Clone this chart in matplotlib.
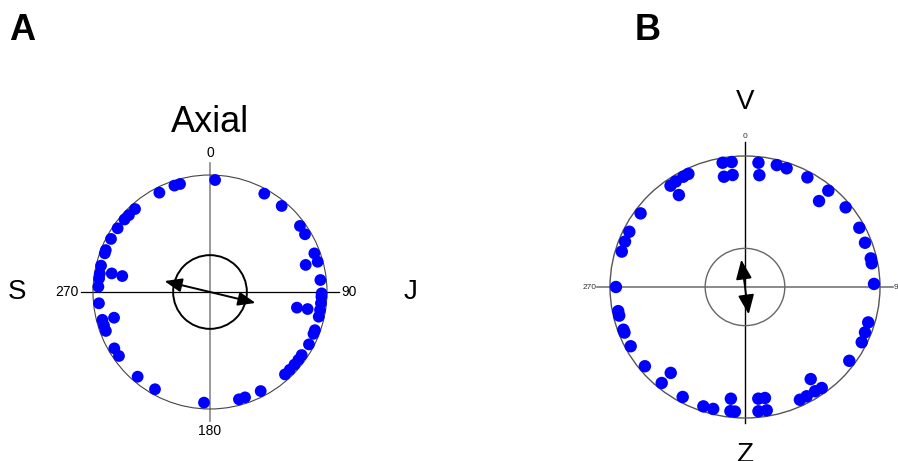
import numpy as np
import matplotlib
matplotlib.use("Agg")
import matplotlib.pyplot as plt
from matplotlib.patches import Circle, FancyArrowPatch

plt.rcParams['font.family'] = ['Liberation Sans', 'DejaVu Sans']

# Data ####################################################################
# panel A (axial) : angle in degrees (0 = top, clockwise), radius as fraction of circle
a_angles = [2.6, 341.5, 344.5, 333, 28.9, 39.8, 53.7, 58.7, 69.7, 74.3, 74.2, 83.8, 90.7,
            317.9, 313.5, 310.3, 304.6, 298.2, 291.9, 290.2, 283.6, 279.5, 277, 272.7, 280.7, 280.3,
            264.2, 255.5, 252.5, 249.5, 255, 239.5, 234.9, 220.5, 209.5, 183.1, 164.9, 161.6,
            152.9, 137.7, 134.3, 130.7, 127.5, 124.5, 117.9, 112, 110, 102.8, 99.3, 95.8, 92.4,
            100.2, 99.9]
a_radius = [0.958, 0.959, 0.958, 0.953, 0.96, 0.957, 0.954, 0.95, 0.951, 0.956, 0.85, 0.949, 0.954,
            0.956, 0.955, 0.958, 0.959, 0.96, 0.96, 0.958, 0.958, 0.955, 0.955, 0.955, 0.855, 0.762,
            0.954, 0.95, 0.95, 0.95, 0.849, 0.949, 0.951, 0.952, 0.955, 0.947, 0.95, 0.949,
            0.951, 0.952, 0.952, 0.952, 0.952, 0.951, 0.957, 0.954, 0.954, 0.953, 0.953, 0.953, 0.953,
            0.755, 0.847]
a_mean_dir = 103.5      # axial mean, drawn both ways
a_mean_len = 0.40
a_crit = 0.315          # inner circle

# panel B
b_angles = [350.1, 354.1, 349.5, 353.9, 6.0, 7.1, 14.2, 18.8, 28.9, 40, 39.9, 50.8, 61.9, 69.2,
            76.8, 79.1, 88.6,
            324.5, 327.5, 331.5, 334.1, 325.1, 306, 296.2, 291.3, 286.5, 270,
            258.9, 256.8, 250.1, 248.7, 241.9, 230.8, 220, 220.1, 208.8, 198.7, 194.2, 187,
            186.5, 184.5, 173.4, 170.1, 174, 170.3, 145.3, 154.7, 151.3, 146.9, 143.6, 126.1,
            116, 111.3, 106.5]
b_radius = [0.963, 0.959, 0.856, 0.86, 0.954, 0.86, 0.96, 0.957, 0.956, 0.96, 0.855, 0.962, 0.96, 0.951,
            0.957, 0.956, 0.956,
            0.95, 0.955, 0.958, 0.96, 0.856, 0.956, 0.955, 0.954, 0.952, 0.956,
            0.957, 0.957, 0.958, 0.958, 0.96, 0.957, 0.856, 0.958, 0.958, 0.962, 0.96, 0.859,
            0.954, 0.954, 0.858, 0.86, 0.954, 0.955, 0.855, 0.952, 0.951, 0.95, 0.958, 0.956,
            0.962, 0.954, 0.952]
b_mean_dir = 352.5
b_mean_len = 0.21
b_crit = 0.295


def polar_xy(ang, rad):
    t = np.radians(np.asarray(ang, dtype=float))
    r = np.asarray(rad, dtype=float)
    return r * np.sin(t), r * np.cos(t)


fig = plt.figure(figsize=(8.98, 4.61), dpi=100)

# Panel A #################################################################
ax = fig.add_axes([0, 0, 0.5, 1])
ax.set_xlim(-210 / 117, (449 - 210) / 117)
ax.set_ylim(-169 / 117, (461 - 169) / 117)
ax.axis("off")

ax.plot([-1.1, 1.1], [0, 0], color="black", lw=0.9, zorder=1)
ax.plot([0, 0], [-1.1, 1.1], color="#888888", lw=1.2, zorder=1)
ax.add_patch(Circle((0, 0), 1.0, fill=False, ec="#444444", lw=0.8, zorder=2))
ax.add_patch(Circle((0, 0), a_crit, fill=False, ec="black", lw=1.4, zorder=2))

x, y = polar_xy(a_angles, a_radius)
ax.scatter(x, y, s=72, color="#0000ff", edgecolors="none", zorder=3)

x1, y1 = polar_xy([a_mean_dir], [a_mean_len])
ax.add_patch(FancyArrowPatch((-x1[0], -y1[0]), (x1[0], y1[0]),
                             arrowstyle="<|-|>,head_length=0.75,head_width=0.3",
                             mutation_scale=14, color="black", lw=1.4, zorder=4,
                             shrinkA=0, shrinkB=0))

ax.text(0, 1.19, "0", ha="center", va="center", fontsize=10)
ax.text(0, -1.19, "180", ha="center", va="center", fontsize=10)
ax.text(-1.12, 0, "270", ha="right", va="center", fontsize=10)
ax.text(1.12, 0, "90", ha="left", va="center", fontsize=10)
ax.text(-1.65, 0, "S", ha="center", va="center", fontsize=20)
ax.text(1.71, 0, "J", ha="center", va="center", fontsize=20)
ax.text(0, 1.45, "Axial", ha="center", va="center", fontsize=26)
fig.text(22 / 898, 1 - 30 / 461, "A", ha="center", va="center", fontsize=26, fontweight="bold")

# Panel B #################################################################
bx = fig.add_axes([0.5, 0, 0.5, 1])
bx.set_xlim(-296 / 135, (449 - 296) / 135)
bx.set_ylim(-174 / 131, (461 - 174) / 131)
bx.axis("off")

bx.plot([-1.096, 1.096], [0, 0], color="#777777", lw=1.2, zorder=1)
bx.plot([0, 0], [-1.04, 1.107], color="black", lw=1.0, zorder=1)
bx.add_patch(Circle((0, 0), 1.0, fill=False, ec="#555555", lw=1.0, zorder=2))
bx.add_patch(Circle((0, 0), b_crit, fill=False, ec="#666666", lw=1.0, zorder=2))

x, y = polar_xy(b_angles, b_radius)
bx.scatter(x, y, s=80, color="#0000ff", edgecolors="none", zorder=3)

x1, y1 = polar_xy([b_mean_dir], [b_mean_len])
bx.add_patch(FancyArrowPatch((-x1[0], -y1[0]), (x1[0], y1[0]),
                             arrowstyle="<|-|>,head_length=0.85,head_width=0.35",
                             mutation_scale=14, color="black", lw=1.3, zorder=4,
                             shrinkA=0, shrinkB=0))

bx.text(0, 1.15, "0", ha="center", va="center", fontsize=6, color="#333333")
bx.text(-1.1, 0, "270", ha="right", va="center", fontsize=6, color="#333333")
bx.text(1.10, 0, "90", ha="left", va="center", fontsize=6, color="#333333")
bx.text(0, 1.41, "V", ha="center", va="center", fontsize=20)
bx.text(0, -1.18, "Z", ha="center", va="top", fontsize=20)
fig.text(648 / 898, 1 - 30 / 461, "B", ha="center", va="center", fontsize=26, fontweight="bold")

fig.savefig("out.png", dpi=100)
